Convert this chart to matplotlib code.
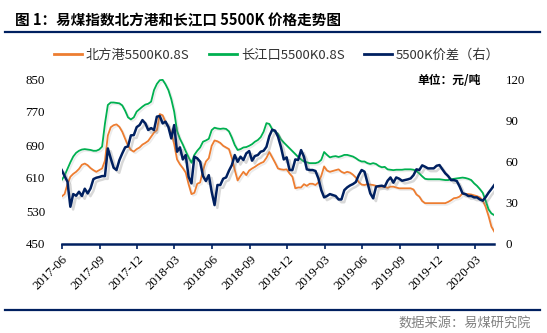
#coding:utf-8
import matplotlib
matplotlib.use('Agg')
import matplotlib.pyplot as plt
import matplotlib.dates as mdates
import matplotlib.patheffects as pe
from matplotlib.lines import Line2D
import pandas as pd

plt.rcParams['font.family'] = ['Noto Sans CJK SC', 'DejaVu Sans']

# weekly samples
dates = pd.date_range('2017-06-01', periods=151, freq='7D')

north_port = [
    565, 571, 595, 613, 620, 625, 632, 642, 645, 641,
    634, 629, 625, 629, 633, 652, 713, 733, 738, 740,
    734, 722, 705, 688, 678, 674, 680, 684, 691, 695,
    700, 710, 720, 726, 765, 762, 746, 734, 720, 692,
    655, 643, 634, 623, 595, 571, 574, 596, 599, 629,
    650, 658, 688, 701, 699, 695, 688, 684, 680, 658,
    630, 604, 615, 625, 617, 628, 633, 637, 642, 646,
    649, 659, 673, 660, 647, 633, 631, 630, 631, 621,
    613, 585, 587, 587, 595, 591, 596, 596, 593, 599,
    615, 638, 628, 625, 627, 629, 631, 625, 622, 625,
    623, 618, 611, 600, 594, 593, 595, 594, 593, 591,
    589, 589, 589, 586, 589, 589, 587, 585, 585, 585,
    585, 585, 582, 570, 565, 554, 549, 549, 549, 549,
    549, 549, 549, 549, 552, 556, 561, 562, 565, 573,
    571, 571, 570, 568, 566, 563, 555, 540, 518, 492, 480,
]

yangtze = [
    605, 616, 632, 648, 662, 671, 676, 679, 680, 679,
    678, 676, 676, 679, 686, 742, 787, 793, 793, 792,
    791, 786, 773, 757, 752, 757, 771, 777, 783, 788,
    790, 795, 823, 838, 847, 848, 837, 823, 801, 771,
    724, 705, 691, 675, 660, 647, 666, 676, 684, 698,
    701, 705, 726, 732, 730, 729, 730, 729, 723, 708,
    690, 678, 680, 684, 685, 688, 692, 698, 702, 709,
    722, 743, 741, 728, 722, 717, 704, 696, 689, 682,
    675, 668, 661, 655, 650, 648, 646, 646, 646, 648,
    654, 673, 666, 660, 662, 663, 661, 663, 666, 666,
    664, 662, 658, 653, 650, 650, 646, 644, 646, 644,
    639, 636, 637, 631, 630, 629, 630, 630, 630, 631,
    631, 631, 630, 627, 621, 614, 608, 607, 607, 607,
    607, 607, 606, 605, 605, 607, 608, 609, 610, 611,
    610, 608, 605, 597, 591, 583, 574, 555, 534, 524, 520,
]

spread = [
    53.8, 49.4, 45.3, 27.1, 36.3, 35.1, 38.0, 34.9, 40.2, 36.8,
    40.4, 47.2, 48.2, 48.7, 49.4, 49.4, 69.5, 62.3, 55.5, 53.8,
    61.0, 65.9, 70.3, 71.0, 79.0, 79.2, 85.0, 86.5, 90.1, 87.7,
    82.9, 84.3, 82.9, 92.6, 93.1, 87.7, 89.0, 85.0, 76.8, 86.5,
    67.1, 70.3, 61.5, 64.7, 48.9, 44.1, 63.5, 62.3, 59.8, 49.4,
    45.8, 50.1, 38.0, 28.3, 42.9, 42.9, 47.5, 48.4, 53.3, 57.4,
    64.7, 59.8, 63.5, 61.1, 65.9, 67.6, 60.6, 64.0, 64.7, 67.1,
    67.8, 70.7, 78.5, 83.1, 82.4, 78.0, 70.7, 61.5, 63.0, 53.8,
    53.8, 61.5, 61.1, 68.3, 63.5, 54.3, 53.8, 53.8, 53.1, 47.7,
    39.2, 33.9, 34.9, 36.3, 35.6, 34.9, 32.4, 32.4, 39.2, 41.2,
    42.6, 43.6, 45.1, 50.1, 53.8, 52.6, 44.6, 36.8, 33.2, 41.7,
    42.1, 42.4, 41.7, 46.0, 48.4, 44.6, 48.4, 47.5, 46.0, 46.5,
    47.0, 47.7, 50.1, 54.3, 53.8, 57.2, 56.2, 55.0, 55.0, 55.0,
    56.9, 57.4, 54.3, 51.4, 49.4, 46.5, 46.5, 45.8, 41.7, 36.8,
    36.3, 34.9, 34.9, 33.9, 33.9, 32.4, 31.5, 34.1, 37.3, 40.0, 42.9,
]

left_ticks = [450, 530, 610, 690, 770, 850]
right_ticks = [0, 30, 60, 90, 120]
labels = ['北方港5500K0.8S', '长江口5500K0.8S', '5500K价差（右）']

ORANGE = '#ED7D31'
GREEN = '#00B050'
NAVY = '#002060'
SERIF = 'Liberation Serif'

fig = plt.figure(figsize=(5.47, 3.33), dpi=100)
ax = fig.add_axes([61.7/547, 1-244/333, (494.3-61.7)/547, (244-79)/333])
ax2 = ax.twinx()

light_shadow = [pe.SimpleLineShadow(offset=(1.2, -1.2), shadow_color='gray', alpha=0.15), pe.Normal()]
ax.plot(dates, north_port, color=ORANGE, lw=1.3, path_effects=light_shadow)
ax.plot(dates, yangtze, color=GREEN, lw=1.3, path_effects=light_shadow)
ax2.plot(dates, spread, color=NAVY, lw=1.8,
         path_effects=[pe.SimpleLineShadow(offset=(2, -2), shadow_color='gray', alpha=0.3), pe.Normal()])

ax.set_xlim(dates[0], dates[-1])
ax.set_ylim(450, 850)
ax2.set_ylim(0, 120)
ax.set_yticks(left_ticks)
ax2.set_yticks(right_ticks)

ax.xaxis.set_major_locator(mdates.MonthLocator(bymonth=[3, 6, 9, 12]))
ax.xaxis.set_major_formatter(mdates.DateFormatter('%Y-%m'))

for a in (ax, ax2):
    for s in ('top', 'left', 'right'):
        a.spines[s].set_visible(False)
ax2.spines['bottom'].set_visible(False)
ax.spines['bottom'].set_color(NAVY)
ax.spines['bottom'].set_linewidth(1.8)

ax.tick_params(axis='y', length=0, pad=12, labelsize=9.3, labelfontfamily=SERIF)
ax2.tick_params(axis='y', length=0, pad=8, labelsize=9.3, labelfontfamily=SERIF)
ax.tick_params(axis='x', length=3.5, width=1.2, color=NAVY, pad=3,
               labelsize=9.3, labelfontfamily=SERIF)
for lbl in ax.get_xticklabels():
    lbl.set_rotation(45)
    lbl.set_ha('right')
    lbl.set_rotation_mode('anchor')

# title and rules
fig.text(15/547, 1-20/333, '图 1：易煤指数北方港和长江口 5500K 价格走势图',
         fontsize=10.5, fontweight='bold', va='center', ha='left')
fig.add_artist(Line2D([5/547, 540/547], [1-32/333]*2, color=NAVY, lw=1.6))
fig.add_artist(Line2D([5/547, 540/547], [1-309.6/333]*2, color=NAVY, lw=1.6))
fig.text(531/547, 1-323.7/333, '数据来源：易煤研究院', fontsize=9.5, color='#808080',
         va='center', ha='right')
fig.text(417/547, 1-80/333, '单位：元/吨', fontsize=8.5, fontweight='bold',
         va='center', ha='left')

handles = [Line2D([], [], color=c, lw=2) for c in (ORANGE, GREEN, NAVY)]
fig.legend(handles, labels, loc='center', bbox_to_anchor=(277/547, 1-55/333), ncol=3,
           frameon=False, fontsize=9.5, handlelength=2.1, handletextpad=0.3,
           columnspacing=1.5, labelcolor='#333333')

plt.savefig('out.png', dpi=100)
